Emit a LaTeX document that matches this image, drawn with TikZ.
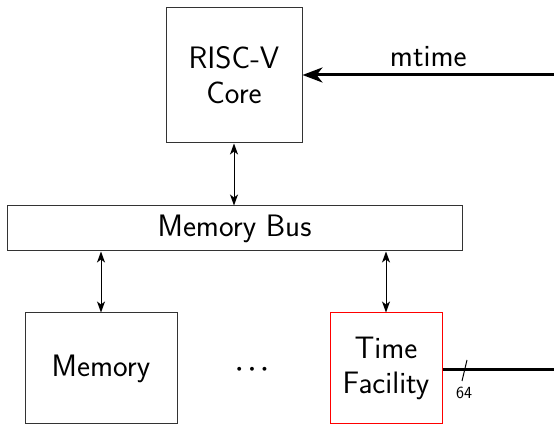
\documentclass[tikz,border=0pt]{standalone}
\usetikzlibrary{arrows.meta}
\begin{document}
\begin{tikzpicture}[x=1pt,y=1pt,
  blk/.style={draw=black!80,line width=1pt,inner sep=0pt,align=center,
    font=\sffamily\fontsize{31}{35}\selectfont},
  thin arr/.style={line width=1pt,{Stealth[length=11pt,width=8pt,inset=3pt]}-{Stealth[length=11pt,width=8pt,inset=3pt]}},
  thick line/.style={line width=3pt}]
\useasboundingbox (0,0) rectangle (554,427);
\node[blk,minimum width=136pt,minimum height=135pt] (core) at (234,351.5) {RISC-V\\Core};
\node[blk,minimum width=455pt,minimum height=45pt] (bus) at (234.5,198.5) {Memory Bus};
\node[blk,minimum width=152pt,minimum height=111pt] (mem) at (101,58.5) {Memory};
\node[blk,draw=red,minimum width=112pt,minimum height=111pt] (tf) at (386,58.5) {Time\\Facility};
\node[font=\fontsize{36}{40}\selectfont\boldmath] (dots) at (252,57) {$\cdots$};
\coordinate (mtin) at (554,352);
\coordinate (tfout) at (554,57);
\draw[thick line,-{Stealth[length=20pt,width=15pt,inset=6pt]}] (mtin) -- (core.east |- mtin)
  node[midway,above=3pt,font=\sffamily\fontsize{31}{35}\selectfont] (mtlabel) {mtime};
\draw[thin arr] (core.south) -- (core.south |- bus.north);
\draw[thin arr] (mem.north |- bus.south) -- (mem.north);
\draw[thin arr] (tf.north |- bus.south) -- (tf.north);
\draw[thick line] (tf.east |- tfout) -- (tfout);
\coordinate (sl1) at (462,46);
\coordinate (sl2) at (467,67);
\draw[line width=1pt] (sl1) -- (sl2);
\node[font=\sffamily\fontsize{17}{19}\selectfont] (bw) at (464,34) {64};
\end{tikzpicture}
\end{document}
